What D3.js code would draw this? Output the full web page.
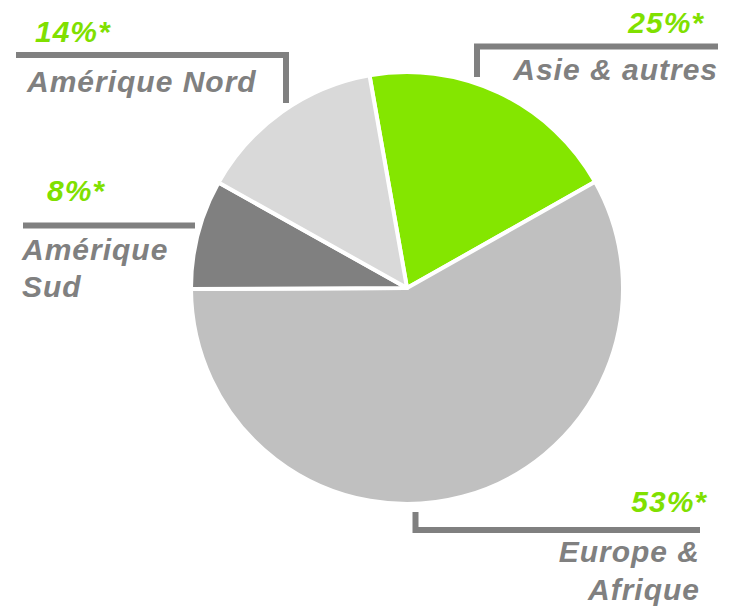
<!DOCTYPE html>
<html>
<head>
<meta charset="utf-8">
<script src="https://cdn.jsdelivr.net/npm/d3@7/dist/d3.min.js"></script>
<style>
  html, body { margin: 0; padding: 0; background: #fff; }
  svg { display: block; }
  text { font-family: "Liberation Sans", Arial, sans-serif; font-weight: bold; font-style: italic; }
</style>
</head>
<body>
<script>
// ---- data ----
const categories = ["Asie & autres", "Europe & Afrique", "Amérique Sud", "Amérique Nord"];
const nameLines = [["Asie & autres"], ["Europe &", "Afrique"], ["Amérique", "Sud"], ["Amérique Nord"]];
const shares = [19.6, 58.1, 8.2, 14.1];          // drawn slice sizes
const pctLabels = ["25%*", "53%*", "8%*", "14%*"]; // printed labels
const sliceColors = ["#84E600", "#C0C0C0", "#808080", "#D9D9D9"];

// ---- layout (positions only) ----
const W = 732, H = 608;
const cx = 407, cy = 288, R = 216;
const layout = [
  { anchor: "end",   pctX: 704, pctY: 33,  nameX: 718, nameY: [80],
    line: [[477, 77], [477, 46.5], [718, 46.5]] },
  { anchor: "end",   pctX: 707, pctY: 512, nameX: 700, nameY: [562, 600],
    line: [[415.5, 512], [415.5, 530], [700, 530]] },
  { anchor: "start", pctX: 47,  pctY: 201, nameX: 22,  nameY: [260, 297],
    line: [[23, 225.5], [195, 225.5]] },
  { anchor: "start", pctX: 35,  pctY: 42,  nameX: 27,  nameY: [92],
    line: [[16, 55], [286, 55], [286, 103]] }
];

const svg = d3.select("body").append("svg").attr("width", W).attr("height", H);

const pie = d3.pie().sort(null).value(d => d)
  .startAngle(-10 * Math.PI / 180).endAngle(350 * Math.PI / 180);
const arc = d3.arc().innerRadius(0).outerRadius(R);

svg.append("g").attr("transform", `translate(${cx},${cy})`)
  .selectAll("path").data(pie(shares)).join("path")
  .attr("d", arc)
  .attr("fill", (d, i) => sliceColors[i])
  .attr("stroke", "#fff").attr("stroke-width", 4).attr("stroke-linejoin", "round");

const line = d3.line();
const g = svg.append("g");
layout.forEach((L, i) => {
  g.append("path").attr("d", line(L.line))
    .attr("fill", "none").attr("stroke", "#808080").attr("stroke-width", 6)
    .attr("stroke-linejoin", "miter");
  g.append("text").attr("x", L.pctX).attr("y", L.pctY)
    .attr("text-anchor", L.anchor).attr("fill", "#80E000")
    .attr("font-size", 30).attr("letter-spacing", 1).text(pctLabels[i]);
  nameLines[i].forEach((t, j) => {
    g.append("text").attr("x", L.nameX).attr("y", L.nameY[j])
      .attr("text-anchor", L.anchor).attr("fill", "#808080")
      .attr("font-size", 30).attr("letter-spacing", 1).text(t);
  });
});
</script>
</body>
</html>
